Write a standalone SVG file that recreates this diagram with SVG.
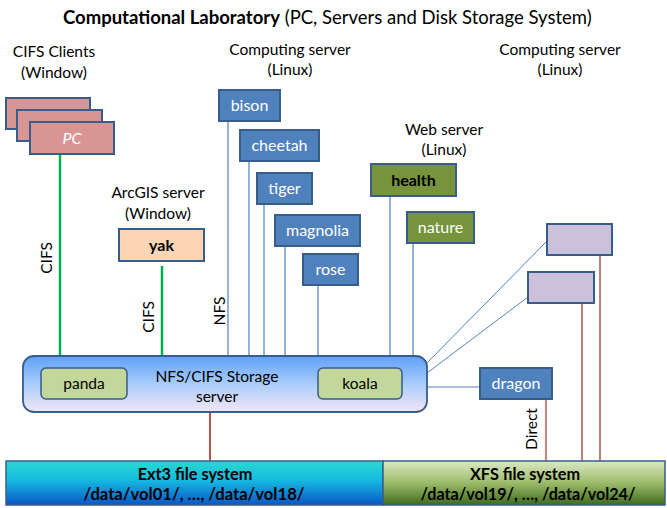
<svg xmlns="http://www.w3.org/2000/svg" width="667" height="508" viewBox="0 0 667 508">
<defs>
<linearGradient id="gStore" x1="0" y1="0" x2="0" y2="1">
<stop offset="0" stop-color="#5fa0f8"/>
<stop offset="0.5" stop-color="#a9cdfb"/>
<stop offset="1" stop-color="#f3e6f3"/>
</linearGradient>
<linearGradient id="gExt3" x1="0" y1="0" x2="0" y2="1">
<stop offset="0" stop-color="#2ad8d0"/>
<stop offset="0.45" stop-color="#16b8e0"/>
<stop offset="1" stop-color="#0a56c8"/>
</linearGradient>
<linearGradient id="gXfs" x1="0" y1="0" x2="0" y2="1">
<stop offset="0" stop-color="#dbe8c4"/>
<stop offset="0.5" stop-color="#9cbb6a"/>
<stop offset="1" stop-color="#3d6a1c"/>
</linearGradient>
</defs>
<style>
text{font-family:Lato,"Open Sans","Liberation Sans",sans-serif;}
.lbl{font-size:15.5px;fill:#000;text-anchor:middle;}
.bx{stroke:#385d8a;stroke-width:2;}
.blue{fill:#4f81bd;}
.wt{font-size:16px;fill:#fff;text-anchor:middle;}
.bk{font-size:16px;fill:#000;text-anchor:middle;font-weight:bold;}
.pc{fill:#d99594;}
.pur{fill:#ccc1da;}
.grn{fill:#77933c;}
.nfs{stroke:#95b3d7;stroke-width:2;fill:none;}
.cifs{stroke:#00b050;stroke-width:2.5;fill:none;}
.red{stroke:#c0504d;stroke-width:2;fill:none;}
.redl{stroke:#c0807f;stroke-width:2;fill:none;}
.thin{stroke:#4f81bd;stroke-width:1;fill:none;}
.fs{font-size:16.3px;font-weight:bold;fill:#000;text-anchor:middle;}
</style>
<rect width="667" height="508" fill="#fff"/>
<text x="63" y="24" font-size="18.5"><tspan font-weight="bold">Computational Laboratory</tspan> (PC, Servers and Disk Storage System)</text>

<g id="labels">
<text class="lbl" x="54" y="57">CIFS Clients</text>
<text class="lbl" x="54" y="78">(Window)</text>
<text class="lbl" x="290" y="55">Computing server</text>
<text class="lbl" x="290" y="75">(Linux)</text>
<text class="lbl" x="560" y="55">Computing server</text>
<text class="lbl" x="560" y="75">(Linux)</text>
<text class="lbl" x="444" y="135">Web server</text>
<text class="lbl" x="444" y="155">(Linux)</text>
<text class="lbl" x="158" y="198">ArcGIS server</text>
<text class="lbl" x="158" y="219">(Window)</text>
</g>

<g id="connectors">
<line class="cifs" x1="60" y1="154" x2="60" y2="356"/>
<line class="cifs" x1="162" y1="266" x2="162" y2="356"/>
<line class="nfs" x1="228" y1="121" x2="228" y2="356"/>
<line x1="249" y1="161" x2="249" y2="356" stroke="#4f81bd" stroke-width="1.2"/>
<line class="nfs" x1="264" y1="204" x2="264" y2="356"/>
<line class="nfs" x1="285" y1="246" x2="285" y2="356"/>
<line class="nfs" x1="318" y1="285" x2="318" y2="356"/>
<line class="nfs" x1="390" y1="196" x2="390" y2="356"/>
<line class="nfs" x1="413" y1="243" x2="413" y2="356"/>
<line class="thin" x1="427" y1="363" x2="547" y2="241"/>
<line class="thin" x1="427" y1="373" x2="528" y2="297"/>
<line class="thin" x1="427" y1="387" x2="480" y2="387"/>
<line class="red" x1="210" y1="412" x2="210" y2="461"/>
<line x1="546" y1="399" x2="546" y2="461" stroke="#b04040" stroke-width="1.3"/>
<line class="redl" x1="582" y1="303" x2="582" y2="461"/>
<line class="redl" x1="600" y1="255" x2="600" y2="461"/>
<text class="lbl" transform="translate(52,258) rotate(-90)">CIFS</text>
<text class="lbl" transform="translate(154,317) rotate(-90)">CIFS</text>
<text class="lbl" transform="translate(225,311) rotate(-90)">NFS</text>
<text class="lbl" transform="translate(537,429) rotate(-90)">Direct</text>
</g>

<g id="pc">
<rect class="bx pc" x="6" y="98" width="84" height="31"/>
<rect class="bx pc" x="17" y="110" width="85" height="31"/>
<rect class="bx pc" x="30" y="122" width="84" height="32"/>
<text class="wt" x="72" y="144" font-style="italic">PC</text>
</g>

<g id="yak">
<rect class="bx" fill="#fcd5b5" x="119" y="229" width="85" height="32"/>
<text class="bk" x="161.5" y="251">yak</text>
</g>

<g id="bison"><rect class="bx blue" x="219" y="90" width="61" height="31"/><text class="wt" x="249.5" y="111">bison</text></g>
<g id="cheetah"><rect class="bx blue" x="240" y="130" width="79" height="31"/><text class="wt" x="279.5" y="151">cheetah</text></g>
<g id="tiger"><rect class="bx blue" x="257" y="173" width="55" height="31"/><text class="wt" x="284.5" y="194">tiger</text></g>
<g id="magnolia"><rect class="bx blue" x="275" y="215" width="85" height="31"/><text class="wt" x="317.5" y="236">magnolia</text></g>
<g id="rose"><rect class="bx blue" x="303" y="254" width="55" height="31"/><text class="wt" x="330.5" y="275">rose</text></g>
<g id="health"><rect class="bx grn" x="371" y="164" width="85" height="32"/><text class="bk" x="413.5" y="186">health</text></g>
<g id="nature"><rect class="bx grn" x="407" y="212" width="67" height="31"/><text class="wt" x="440.5" y="233">nature</text></g>
<g id="compute1"><rect class="bx pur" x="547" y="224" width="65" height="31"/></g>
<g id="compute2"><rect class="bx pur" x="528" y="272" width="66" height="31"/></g>
<g id="dragon"><rect class="bx blue" x="480" y="368" width="72" height="31"/><text class="wt" x="516" y="389">dragon</text></g>

<g id="storage">
<rect x="23" y="356" width="404" height="56" rx="11" fill="url(#gStore)" stroke="#385d8a" stroke-width="1.8"/>
<rect x="41" y="368" width="86" height="31" rx="5" fill="#c3d69b" stroke="#385d8a" stroke-width="1.5"/>
<text class="lbl" x="84" y="389" font-size="16">panda</text>
<rect x="318" y="368" width="84" height="31" rx="5" fill="#c3d69b" stroke="#385d8a" stroke-width="1.5"/>
<text class="lbl" x="360" y="389" font-size="16">koala</text>
<text class="lbl" x="217" y="382" font-size="16">NFS/CIFS Storage</text>
<text class="lbl" x="217" y="402" font-size="16">server</text>
</g>

<g id="ext3">
<rect x="6" y="461" width="377" height="44" fill="url(#gExt3)" stroke="#385d8a" stroke-width="1.5"/>
<text class="fs" x="195" y="480">Ext3 file system</text>
<text class="fs" x="194" y="500" textLength="221" lengthAdjust="spacingAndGlyphs">/data/vol01/, …, /data/vol18/</text>
</g>
<g id="xfs">
<rect x="383" y="461" width="282" height="44" fill="url(#gXfs)" stroke="#385d8a" stroke-width="1.5"/>
<text class="fs" x="525" y="480">XFS file system</text>
<text class="fs" x="528" y="500" textLength="215" lengthAdjust="spacingAndGlyphs">/data/vol19/, …, /data/vol24/</text>
</g>
</svg>
